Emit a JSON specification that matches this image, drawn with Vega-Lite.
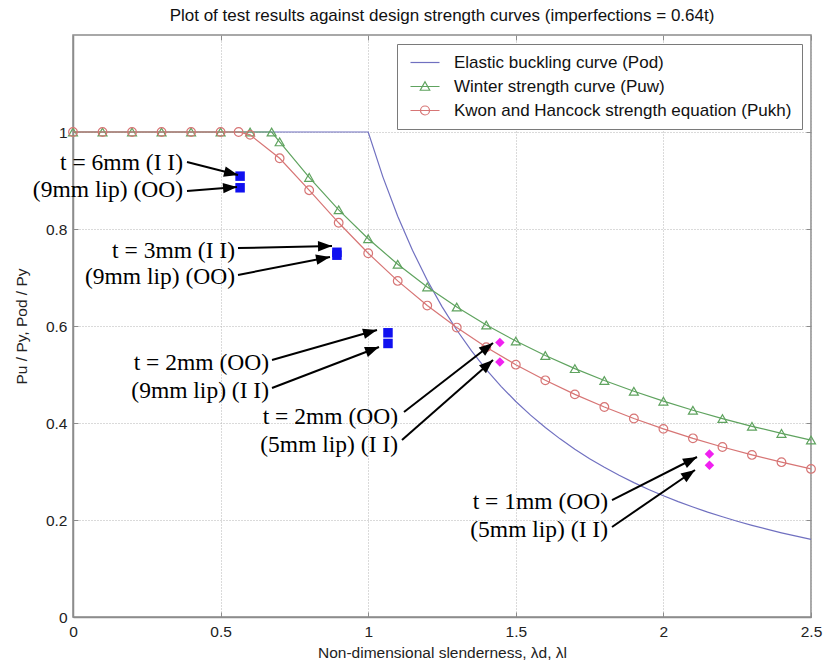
{
  "$schema": "https://vega.github.io/schema/vega-lite/v6.json",
  "width": 738,
  "height": 582,
  "autosize": {"type": "none"},
  "padding": {"left": 73, "top": 35, "right": 14, "bottom": 52},
  "background": "white",
  "title": {
    "text": "Plot of test results against design strength curves (imperfections = 0.64t)",
    "font": "Liberation Sans",
    "fontSize": 17,
    "fontWeight": "normal",
    "color": "#111111",
    "anchor": "middle",
    "offset": 10
  },
  "config": {
    "view": {"stroke": "#8c8c8c", "strokeWidth": 1.5},
    "axis": {
      "labelFont": "Liberation Sans",
      "labelFontSize": 15.5,
      "labelColor": "#222222",
      "titleFont": "Liberation Sans",
      "titleFontSize": 15.5,
      "titleFontWeight": "normal",
      "titleColor": "#222222",
      "domainColor": "#8c8c8c",
      "domainWidth": 1.5,
      "tickColor": "#8c8c8c",
      "tickSize": -5,
      "gridColor": "#b5b5b5",
      "gridDash": [1, 2],
      "gridWidth": 1
    }
  },
  "resolve": {"axis": {"x": "independent", "y": "independent"}},
  "datasets": {
    "curves": [
      {"series": "Elastic buckling curve (Pod)", "x": 0, "y": 1},
      {"series": "Elastic buckling curve (Pod)", "x": 1.0, "y": 1},
      {"series": "Elastic buckling curve (Pod)", "x": 1.05, "y": 0.907},
      {"series": "Elastic buckling curve (Pod)", "x": 1.1, "y": 0.8264},
      {"series": "Elastic buckling curve (Pod)", "x": 1.15, "y": 0.7561},
      {"series": "Elastic buckling curve (Pod)", "x": 1.2, "y": 0.6944},
      {"series": "Elastic buckling curve (Pod)", "x": 1.25, "y": 0.64},
      {"series": "Elastic buckling curve (Pod)", "x": 1.3, "y": 0.5917},
      {"series": "Elastic buckling curve (Pod)", "x": 1.35, "y": 0.5487},
      {"series": "Elastic buckling curve (Pod)", "x": 1.4, "y": 0.5102},
      {"series": "Elastic buckling curve (Pod)", "x": 1.45, "y": 0.4756},
      {"series": "Elastic buckling curve (Pod)", "x": 1.5, "y": 0.4444},
      {"series": "Elastic buckling curve (Pod)", "x": 1.55, "y": 0.4162},
      {"series": "Elastic buckling curve (Pod)", "x": 1.6, "y": 0.3906},
      {"series": "Elastic buckling curve (Pod)", "x": 1.65, "y": 0.3673},
      {"series": "Elastic buckling curve (Pod)", "x": 1.7, "y": 0.346},
      {"series": "Elastic buckling curve (Pod)", "x": 1.75, "y": 0.3265},
      {"series": "Elastic buckling curve (Pod)", "x": 1.8, "y": 0.3086},
      {"series": "Elastic buckling curve (Pod)", "x": 1.85, "y": 0.2922},
      {"series": "Elastic buckling curve (Pod)", "x": 1.9, "y": 0.277},
      {"series": "Elastic buckling curve (Pod)", "x": 1.95, "y": 0.263},
      {"series": "Elastic buckling curve (Pod)", "x": 2.0, "y": 0.25},
      {"series": "Elastic buckling curve (Pod)", "x": 2.05, "y": 0.238},
      {"series": "Elastic buckling curve (Pod)", "x": 2.1, "y": 0.2268},
      {"series": "Elastic buckling curve (Pod)", "x": 2.15, "y": 0.2163},
      {"series": "Elastic buckling curve (Pod)", "x": 2.2, "y": 0.2066},
      {"series": "Elastic buckling curve (Pod)", "x": 2.25, "y": 0.1975},
      {"series": "Elastic buckling curve (Pod)", "x": 2.3, "y": 0.189},
      {"series": "Elastic buckling curve (Pod)", "x": 2.35, "y": 0.1811},
      {"series": "Elastic buckling curve (Pod)", "x": 2.4, "y": 0.1736},
      {"series": "Elastic buckling curve (Pod)", "x": 2.45, "y": 0.1666},
      {"series": "Elastic buckling curve (Pod)", "x": 2.5, "y": 0.16},
      {"series": "Winter strength curve (Puw)", "x": 0, "y": 1},
      {"series": "Winter strength curve (Puw)", "x": 0.1, "y": 1},
      {"series": "Winter strength curve (Puw)", "x": 0.2, "y": 1},
      {"series": "Winter strength curve (Puw)", "x": 0.3, "y": 1},
      {"series": "Winter strength curve (Puw)", "x": 0.4, "y": 1},
      {"series": "Winter strength curve (Puw)", "x": 0.5, "y": 1},
      {"series": "Winter strength curve (Puw)", "x": 0.6, "y": 1},
      {"series": "Winter strength curve (Puw)", "x": 0.673, "y": 1},
      {"series": "Winter strength curve (Puw)", "x": 0.7, "y": 0.9796},
      {"series": "Winter strength curve (Puw)", "x": 0.8, "y": 0.9063},
      {"series": "Winter strength curve (Puw)", "x": 0.9, "y": 0.8395},
      {"series": "Winter strength curve (Puw)", "x": 1.0, "y": 0.78},
      {"series": "Winter strength curve (Puw)", "x": 1.1, "y": 0.7273},
      {"series": "Winter strength curve (Puw)", "x": 1.2, "y": 0.6806},
      {"series": "Winter strength curve (Puw)", "x": 1.3, "y": 0.6391},
      {"series": "Winter strength curve (Puw)", "x": 1.4, "y": 0.602},
      {"series": "Winter strength curve (Puw)", "x": 1.5, "y": 0.5689},
      {"series": "Winter strength curve (Puw)", "x": 1.6, "y": 0.5391},
      {"series": "Winter strength curve (Puw)", "x": 1.7, "y": 0.5121},
      {"series": "Winter strength curve (Puw)", "x": 1.8, "y": 0.4877},
      {"series": "Winter strength curve (Puw)", "x": 1.9, "y": 0.4654},
      {"series": "Winter strength curve (Puw)", "x": 2.0, "y": 0.445},
      {"series": "Winter strength curve (Puw)", "x": 2.1, "y": 0.4263},
      {"series": "Winter strength curve (Puw)", "x": 2.2, "y": 0.4091},
      {"series": "Winter strength curve (Puw)", "x": 2.3, "y": 0.3932},
      {"series": "Winter strength curve (Puw)", "x": 2.4, "y": 0.3785},
      {"series": "Winter strength curve (Puw)", "x": 2.5, "y": 0.3648},
      {"series": "Kwon and Hancock strength equation (Pukh)", "x": 0, "y": 1},
      {"series": "Kwon and Hancock strength equation (Pukh)", "x": 0.1, "y": 1},
      {"series": "Kwon and Hancock strength equation (Pukh)", "x": 0.2, "y": 1},
      {"series": "Kwon and Hancock strength equation (Pukh)", "x": 0.3, "y": 1},
      {"series": "Kwon and Hancock strength equation (Pukh)", "x": 0.4, "y": 1},
      {"series": "Kwon and Hancock strength equation (Pukh)", "x": 0.5, "y": 1},
      {"series": "Kwon and Hancock strength equation (Pukh)", "x": 0.561, "y": 1},
      {"series": "Kwon and Hancock strength equation (Pukh)", "x": 0.6, "y": 0.9941},
      {"series": "Kwon and Hancock strength equation (Pukh)", "x": 0.7, "y": 0.9458},
      {"series": "Kwon and Hancock strength equation (Pukh)", "x": 0.8, "y": 0.88},
      {"series": "Kwon and Hancock strength equation (Pukh)", "x": 0.9, "y": 0.8128},
      {"series": "Kwon and Hancock strength equation (Pukh)", "x": 1.0, "y": 0.75},
      {"series": "Kwon and Hancock strength equation (Pukh)", "x": 1.1, "y": 0.693},
      {"series": "Kwon and Hancock strength equation (Pukh)", "x": 1.2, "y": 0.6421},
      {"series": "Kwon and Hancock strength equation (Pukh)", "x": 1.3, "y": 0.5967},
      {"series": "Kwon and Hancock strength equation (Pukh)", "x": 1.4, "y": 0.5563},
      {"series": "Kwon and Hancock strength equation (Pukh)", "x": 1.5, "y": 0.5203},
      {"series": "Kwon and Hancock strength equation (Pukh)", "x": 1.6, "y": 0.488},
      {"series": "Kwon and Hancock strength equation (Pukh)", "x": 1.7, "y": 0.459},
      {"series": "Kwon and Hancock strength equation (Pukh)", "x": 1.8, "y": 0.4329},
      {"series": "Kwon and Hancock strength equation (Pukh)", "x": 1.9, "y": 0.4093},
      {"series": "Kwon and Hancock strength equation (Pukh)", "x": 2.0, "y": 0.3879},
      {"series": "Kwon and Hancock strength equation (Pukh)", "x": 2.1, "y": 0.3684},
      {"series": "Kwon and Hancock strength equation (Pukh)", "x": 2.2, "y": 0.3505},
      {"series": "Kwon and Hancock strength equation (Pukh)", "x": 2.3, "y": 0.3342},
      {"series": "Kwon and Hancock strength equation (Pukh)", "x": 2.4, "y": 0.3192},
      {"series": "Kwon and Hancock strength equation (Pukh)", "x": 2.5, "y": 0.3053}
    ],
    "tests": [
      {"kind": "square", "x": 0.566, "y": 0.909},
      {"kind": "square", "x": 0.566, "y": 0.885},
      {"kind": "square", "x": 0.894, "y": 0.752},
      {"kind": "square", "x": 0.894, "y": 0.746},
      {"kind": "square", "x": 1.067, "y": 0.586},
      {"kind": "square", "x": 1.067, "y": 0.564},
      {"kind": "diamond", "x": 1.446, "y": 0.566},
      {"kind": "diamond", "x": 1.446, "y": 0.526},
      {"kind": "diamond", "x": 2.156, "y": 0.336},
      {"kind": "diamond", "x": 2.156, "y": 0.313}
    ],
    "notes": [
      {"label": "t = 6mm (I I)", "x": 0.3726, "y": 0.9361},
      {"label": "(9mm lip) (OO)", "x": 0.3726, "y": 0.8804},
      {"label": "t = 3mm (I I)", "x": 0.5488, "y": 0.7546},
      {"label": "(9mm lip) (OO)", "x": 0.5488, "y": 0.701},
      {"label": "t = 2mm (OO)", "x": 0.664, "y": 0.5237},
      {"label": "(9mm lip) (I I)", "x": 0.664, "y": 0.466},
      {"label": "t = 2mm (OO)", "x": 1.1009, "y": 0.4124},
      {"label": "(5mm lip) (I I)", "x": 1.1009, "y": 0.3546},
      {"label": "t = 1mm (OO)", "x": 1.8123, "y": 0.2371},
      {"label": "(5mm lip) (I I)", "x": 1.8123, "y": 0.1794}
    ],
    "arrows": [
      {"x": 0.3862, "y": 0.9381, "x2": 0.5589, "y2": 0.9113},
      {"x": 0.3862, "y": 0.8784, "x2": 0.5556, "y2": 0.8866},
      {"x": 0.5589, "y": 0.7608, "x2": 0.8774, "y2": 0.7649},
      {"x": 0.5589, "y": 0.7052, "x2": 0.8706, "y2": 0.7423},
      {"x": 0.6741, "y": 0.5299, "x2": 1.0298, "y2": 0.5918},
      {"x": 0.6741, "y": 0.4722, "x2": 1.0366, "y2": 0.5567},
      {"x": 1.1213, "y": 0.4227, "x2": 1.4228, "y2": 0.5649},
      {"x": 1.1145, "y": 0.3649, "x2": 1.4228, "y2": 0.5299},
      {"x": 1.8259, "y": 0.2412, "x2": 2.1138, "y2": 0.3299},
      {"x": 1.8259, "y": 0.1856, "x2": 2.107, "y2": 0.3031}
    ]
  },
  "layer": [
    {
      "data": {"name": "curves"},
      "transform": [{"filter": "datum.series === 'Elastic buckling curve (Pod)'"}],
      "mark": {"type": "line", "stroke": "#7070c0", "strokeWidth": 1.2},
      "encoding": {
        "x": {
          "field": "x", "type": "quantitative",
          "scale": {"domain": [0, 2.5], "nice": false, "zero": false},
          "axis": {
            "title": "Non-dimensional slenderness, λd, λl",
            "values": [0, 0.5, 1, 1.5, 2, 2.5],
            "format": "~g",
            "grid": true,
            "labelPadding": 12,
            "titlePadding": 6,
            "labelFlush": false
          }
        },
        "y": {
          "field": "y", "type": "quantitative",
          "scale": {"domain": [0, 1.2], "nice": false, "zero": false},
          "axis": {
            "title": "Pu / Py, Pod / Py",
            "values": [0, 0.2, 0.4, 0.6, 0.8, 1],
            "format": "~g",
            "grid": true,
            "labelPadding": 11,
            "titlePadding": 16,
            "labelFlush": false
          }
        }
      }
    },
    {
      "data": {"name": "curves"},
      "transform": [{"filter": "datum.series === 'Winter strength curve (Puw)'"}],
      "mark": {"type": "line", "stroke": "#5fa35f", "strokeWidth": 1.2},
      "encoding": {
        "x": {
          "field": "x", "type": "quantitative",
          "axis": {"orient": "top", "title": null, "labels": false, "grid": false, "domain": false, "values": [0, 0.5, 1, 1.5, 2, 2.5]}
        },
        "y": {
          "field": "y", "type": "quantitative",
          "axis": {"orient": "right", "title": null, "labels": false, "grid": false, "domain": false, "values": [0, 0.2, 0.4, 0.6, 0.8, 1]}
        }
      }
    },
    {
      "data": {"name": "curves"},
      "transform": [{"filter": "datum.series === 'Winter strength curve (Puw)'"}],
      "mark": {"type": "point", "shape": "triangle-up", "filled": false, "stroke": "#5fa35f", "strokeWidth": 1.2, "size": 80, "opacity": 1},
      "encoding": {
        "x": {"field": "x", "type": "quantitative", "axis": null},
        "y": {"field": "y", "type": "quantitative", "axis": null}
      }
    },
    {
      "data": {"name": "curves"},
      "transform": [{"filter": "datum.series === 'Kwon and Hancock strength equation (Pukh)'"}],
      "mark": {"type": "line", "stroke": "#d77575", "strokeWidth": 1.2},
      "encoding": {
        "x": {"field": "x", "type": "quantitative", "axis": null},
        "y": {"field": "y", "type": "quantitative", "axis": null}
      }
    },
    {
      "data": {"name": "curves"},
      "transform": [{"filter": "datum.series === 'Kwon and Hancock strength equation (Pukh)'"}],
      "mark": {"type": "point", "shape": "circle", "filled": false, "stroke": "#d77575", "strokeWidth": 1.2, "size": 75, "opacity": 1},
      "encoding": {
        "x": {"field": "x", "type": "quantitative", "axis": null},
        "y": {"field": "y", "type": "quantitative", "axis": null}
      }
    },
    {
      "data": {"name": "tests"},
      "transform": [{"filter": "datum.kind === 'square'"}],
      "mark": {"type": "point", "shape": "square", "filled": true, "fill": "#1010f0", "size": 90, "opacity": 1},
      "encoding": {
        "x": {"field": "x", "type": "quantitative", "axis": null},
        "y": {"field": "y", "type": "quantitative", "axis": null}
      }
    },
    {
      "data": {"name": "tests"},
      "transform": [{"filter": "datum.kind === 'diamond'"}],
      "mark": {"type": "point", "shape": "diamond", "filled": true, "fill": "#f020f0", "size": 90, "opacity": 1},
      "encoding": {
        "x": {"field": "x", "type": "quantitative", "axis": null},
        "y": {"field": "y", "type": "quantitative", "axis": null}
      }
    },
    {
      "data": {"name": "arrows"},
      "mark": {"type": "rule", "stroke": "#000000", "strokeWidth": 2},
      "encoding": {
        "x": {"field": "x", "type": "quantitative", "axis": null},
        "y": {"field": "y", "type": "quantitative", "axis": null},
        "x2": {"field": "x2"},
        "y2": {"field": "y2"}
      }
    },
    {
      "data": {"name": "arrows"},
      "transform": [{"calculate": "atan2(-(datum.y2 - datum.y) * 485, (datum.x2 - datum.x) * 295.2) * 180 / PI", "as": "ang"}],
      "mark": {"type": "point", "shape": "M0,0L-2,-0.75L-2,0.75Z", "filled": true, "fill": "#000000", "size": 196, "opacity": 1, "strokeWidth": 0},
      "encoding": {
        "x": {"field": "x2", "type": "quantitative", "axis": null},
        "y": {"field": "y2", "type": "quantitative", "axis": null},
        "angle": {"field": "ang", "type": "quantitative", "scale": null}
      }
    },
    {
      "data": {"name": "notes"},
      "mark": {"type": "text", "align": "right", "baseline": "middle", "font": "Liberation Serif", "fontSize": 23.5, "color": "#000000"},
      "encoding": {
        "x": {"field": "x", "type": "quantitative", "axis": null},
        "y": {"field": "y", "type": "quantitative", "axis": null},
        "text": {"field": "label"}
      }
    },
    {
      "data": {"name": "curves"},
      "transform": [{"filter": "false"}],
      "mark": {"type": "point", "filled": false, "strokeWidth": 1.2, "opacity": 1},
      "encoding": {
        "x": {"field": "x", "type": "quantitative", "axis": null},
        "y": {"field": "y", "type": "quantitative", "axis": null},
        "size": {"value": 100},
        "color": {
          "field": "series", "type": "nominal",
          "scale": {
            "domain": ["Elastic buckling curve (Pod)", "Winter strength curve (Puw)", "Kwon and Hancock strength equation (Pukh)"],
            "range": ["#7070c0", "#5fa35f", "#d77575"]
          },
          "legend": {
            "title": null, "orient": "top-right", "offset": 9, "padding": 10,
            "fillColor": "white", "strokeColor": "#7a7a7a",
            "labelFont": "Liberation Sans", "labelFontSize": 17, "labelColor": "#111111",
            "labelOffset": 30, "rowPadding": 6, "symbolStrokeWidth": 1.2, "labelLimit": 500
          }
        },
        "shape": {
          "field": "series", "type": "nominal",
          "scale": {
            "domain": ["Elastic buckling curve (Pod)", "Winter strength curve (Puw)", "Kwon and Hancock strength equation (Pukh)"],
            "range": [
              "M-1,0L4.8,0",
              "M-1,0L4.8,0M1.9,-0.95L2.85,0.75L0.95,0.75Z",
              "M-1,0L4.8,0M2.8,0A0.9,0.9 0 1,1 1,0A0.9,0.9 0 1,1 2.8,0Z"
            ]
          },
          "legend": {
            "title": null, "orient": "top-right", "offset": 9, "padding": 10,
            "fillColor": "white", "strokeColor": "#7a7a7a",
            "labelFont": "Liberation Sans", "labelFontSize": 17, "labelColor": "#111111",
            "labelOffset": 30, "rowPadding": 6, "symbolStrokeWidth": 1.2, "labelLimit": 500
          }
        }
      }
    }
  ]
}
